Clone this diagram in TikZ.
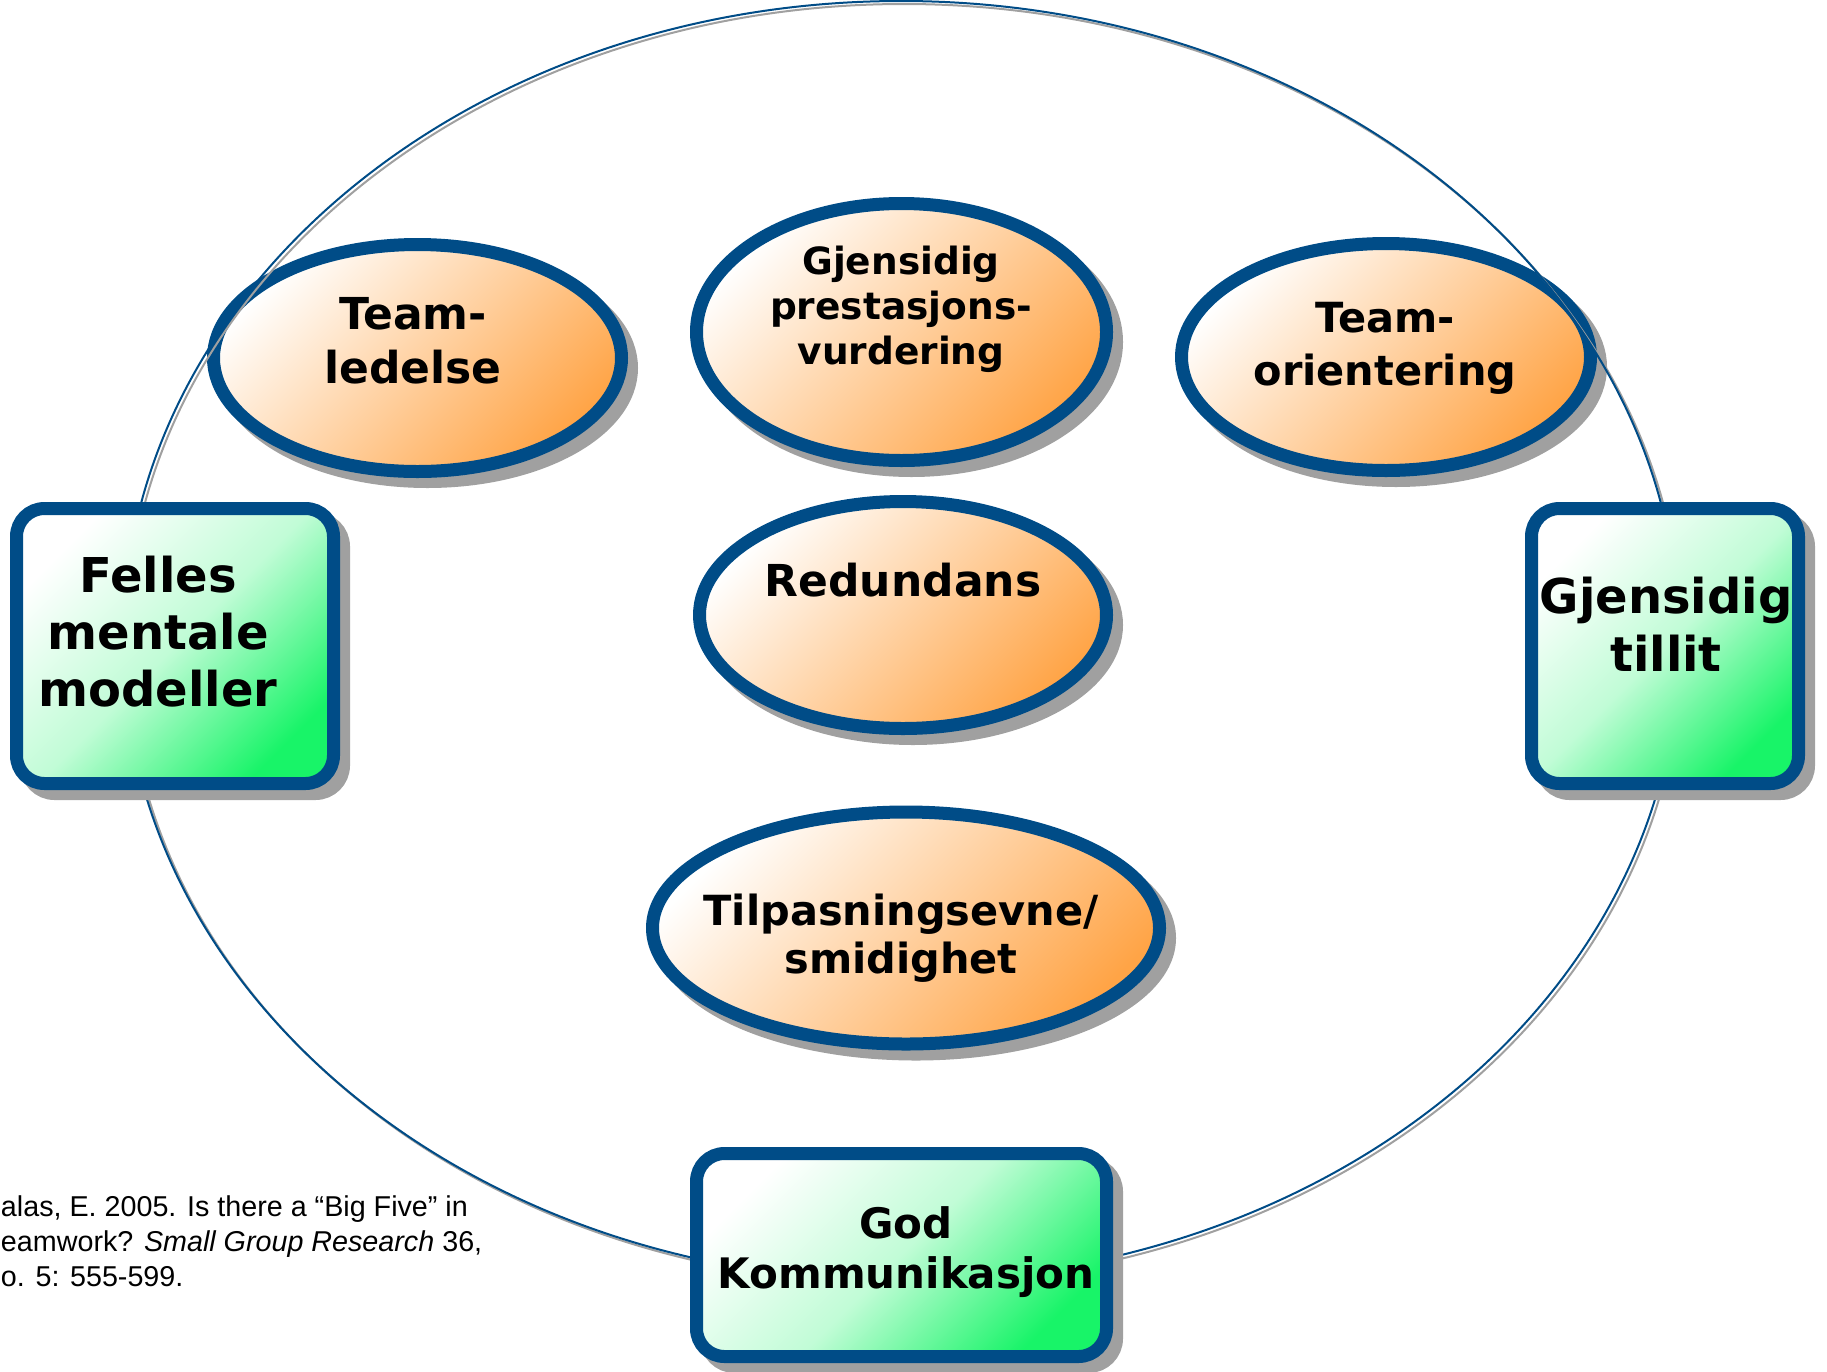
\documentclass[tikz,border=0pt]{standalone}
\usepackage{fontspec}
\setmainfont{DejaVu Sans}
\newfontfamily\citefont[Ligatures=TeX]{Liberation Sans}
\usepackage{xcolor}
\usetikzlibrary{shapes.geometric,shadows}
\definecolor{navy}{RGB}{0,76,135}
\definecolor{peach}{RGB}{255,164,70}
\definecolor{mint}{RGB}{24,244,104}
\definecolor{dropgray}{RGB}{160,160,160}

\begin{document}
\begin{tikzpicture}[x=1pt, y=-1pt,
    every node/.style={inner sep=0pt, outer sep=0pt},
    shadowed/.style={drop shadow={shadow xshift=10pt, shadow yshift=-10pt, fill=dropgray, draw=dropgray, line width=13pt, opacity=1}},
    oval/.style={ellipse, shadowed, draw=navy, line width=13pt, top color=white, bottom color=peach, shading angle=45},
    card/.style={rectangle, rounded corners=28pt, shadowed, draw=navy, line width=13pt, top color=white, bottom color=mint, middle color=mint!27, shading angle=45},
    word/.style 2 args={align=center, font=\bfseries\fontsize{#1}{#2}\selectfont}]

\useasboundingbox (0,0) rectangle (1827,1371);

% ovals
\node[oval, minimum width=408pt, minimum height=227pt] (lead) at (417.5,358) {};
\node[word={44}{54}] (leadtxt) at (413,341) {Team-\\ledelse};
\node[oval, minimum width=410pt, minimum height=257pt] (perf) at (901.5,332) {};
\node[word={37.5}{45}] (perftxt) at (901,309) {Gjensidig\\prestasjons-\\vurdering};
\node[oval, minimum width=409pt, minimum height=227pt] (orient) at (1386,357) {};
\node[word={41.5}{53}] (orienttxt) at (1385,348.5) {Team-\\orientering};
\node[oval, minimum width=407pt, minimum height=227pt] (redund) at (903,615) {};
\node[word={44}{53}] (redundtxt) at (903,580) {Redundans};
\node[oval, minimum width=507pt, minimum height=232pt] (adapt) at (906,928) {};
\node[word={41.5}{48}] (adapttxt) at (901,938) {Tilpasningsevne/\\smidighet};

% ring
\coordinate (ringc) at (901,641);
\coordinate (ringsh) at (904,644);
\draw[dropgray, line width=2pt] (ringsh) ellipse [x radius=778, y radius=640];
\draw[navy, line width=2pt] (ringc) ellipse [x radius=778, y radius=640];

% cards
\node[card, minimum width=317pt, minimum height=275pt] (models) at (175,646) {};
\node[word={48}{57}] (modelstxt) at (158,632) {Felles\\mentale\\modeller};
\node[card, minimum width=267pt, minimum height=275pt] (trust) at (1665,646) {};
\node[word={48}{58}] (trusttxt) at (1666,624) {Gjensidig\\tillit};
\node[card, minimum width=410pt, minimum height=203pt] (comm) at (901.5,1255) {};
\node[word={42}{50}] (commtxt) at (906,1252) {God\\Kommunikasjon};

\node[anchor=north west, align=left, font=\citefont\fontsize{28.7}{35}\selectfont] (cite) at (1,1196)
    {alas, E. 2005. Is there a “Big Five” in\\eamwork? \textit{Small Group Research} 36,\\o. 5: 555-599.};

\end{tikzpicture}
\end{document}
